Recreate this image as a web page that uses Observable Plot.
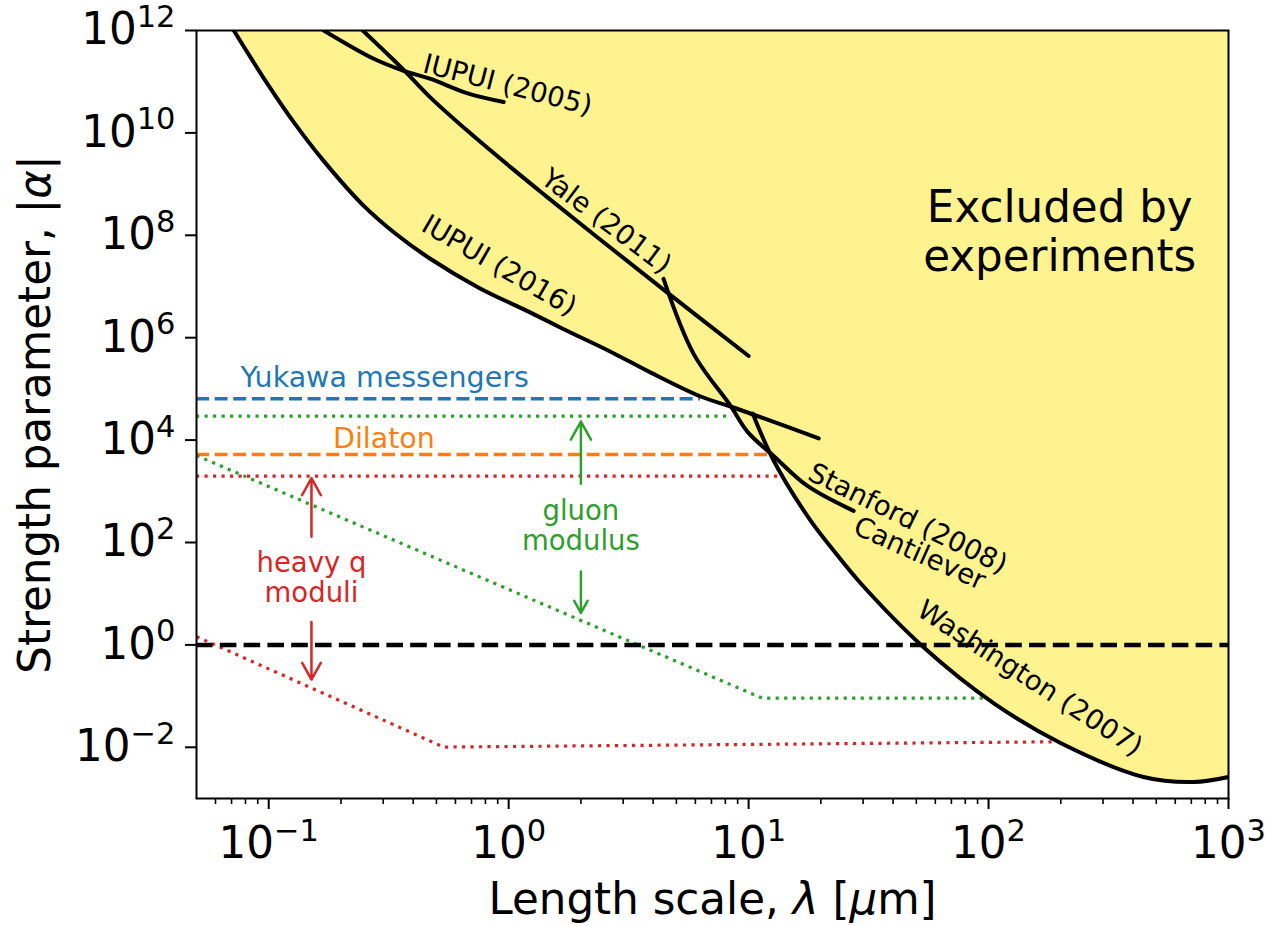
<!DOCTYPE html>
<html>
<head>
<meta charset="utf-8">
<script src="https://cdn.jsdelivr.net/npm/d3@7"></script>
<script src="https://cdn.jsdelivr.net/npm/@observablehq/plot@0.6"></script>
<style>
  html, body { margin: 0; padding: 0; background: #fff; }
  #chart svg { display: block; }
</style>
</head>
<body>
<div id="chart"></div>
<script>
// ---------------- data (x: length scale λ in µm, y: |α|) ----------------
const iupui2016X = [0.0715, 0.0971, 0.1296, 0.168, 0.2465, 0.338, 0.464, 0.75, 1.21, 1.68, 2.71, 3.91, 6.31, 8.41, 19.6];
const iupui2016Y = [1e12, 1.03e11, 1.43e10, 2.97e9, 3.93e8, 1.07e8, 3.65e7, 9.5e6, 3.23e6, 1.5e6, 5.1e5, 2.08e5, 7.1e4, 4.53e4, 1.08e4];

const yaleX = [0.2465, 0.3616, 0.464, 0.681, 1.039, 1.426, 2.305, 4.38, 10];
const yaleY = [1e12, 1.78e11, 5.3e10, 1.05e10, 1.98e9, 5.9e8, 9.7e7, 8.97e6, 4.4e5];

const iupui2005X = [0.1695, 0.274, 0.365, 0.473, 0.675, 0.953];
const iupui2005Y = [1e12, 2.8e11, 1.63e11, 1.13e11, 5.9e10, 4.0e10];

const stanfordX = [4.42, 5.90, 8.41, 9.90, 12.71, 17.6, 27.4];
const stanfordY = [1.41e7, 4.83e5, 4.66e4, 1.45e4, 4.9e3, 1.27e3, 414];

// Cantilever + Washington (2007) bound
const washingtonX = [10.4, 12.71, 18.1, 22.6, 29.3, 53.6, 104.9, 199.5, 442, 715, 1000];
const washingtonY = [3.3e4, 4.0e3, 270, 70, 16, 0.90, 0.073, 0.0121, 0.00263, 0.0021, 0.00263];

// theory predictions
const yukawaLevel = 6.4e4, yukawaEnd = 6.3;
const gluonTopLevel = 2.93e4, gluonTopEnd = 8.55;
const dilatonLevel = 5.25e3, dilatonEnd = 12.0;
const heavyTopLevel = 1.98e3, heavyTopEnd = 13.3;
const gluonLowX = [0.05, 11.4, 99];
const gluonLowY = [5.0e3, 0.091, 0.091];
const heavyLowX = [0.05, 0.536, 186.6];
const heavyLowY = [1.45, 0.0101, 0.0128];
const gravityLevel = 1;

// arrows [x, from, to]
const arrowX = [2.0, 2.0, 0.1507, 0.1507];
const arrowFrom = [1.4e3, 27, 130, 2.8];
const arrowTo = [2.3e4, 4.2, 1.8e3, 0.21];
const arrowColor = ["#2ca02c", "#2ca02c", "#d62728", "#d62728"];

// curve labels
const curveLabelText = ["IUPUI (2005)", "Yale (2011)", "IUPUI (2016)", "Stanford (2008)", "Cantilever", "Washington (2007)"];
const curveLabelX = [0.99, 2.55, 0.912, 46.1, 51.6, 148.6];
const curveLabelY = [8.6e10, 1.86e8, 2.55e7, 292, 60.6, 0.221];
const curveLabelAngle = [14.5, 37, 30, 26, 24, 33];

// ticks
const xMajorTicks = [0.1, 1, 10, 100, 1000];
const xMinorTicks = [0.06, 0.07, 0.08, 0.09, 0.2, 0.3, 0.4, 0.5, 0.6, 0.7, 0.8, 0.9,
  2, 3, 4, 5, 6, 7, 8, 9, 20, 30, 40, 50, 60, 70, 80, 90, 200, 300, 400, 500, 600, 700, 800, 900];
const yMajorTicks = [1e-2, 1, 1e2, 1e4, 1e6, 1e8, 1e10, 1e12];

// ---------------- build tables ----------------
const toRows = (X, Y) => X.map((x, i) => ({x, y: Y[i]}));
const iupui2016 = toRows(iupui2016X, iupui2016Y);
const yale = toRows(yaleX, yaleY);
const iupui2005 = toRows(iupui2005X, iupui2005Y);
const stanford = toRows(stanfordX, stanfordY);
const washington = toRows(washingtonX, washingtonY);
const gluonLow = toRows(gluonLowX, gluonLowY);
const heavyLow = toRows(heavyLowX, heavyLowY);

// excluded region boundary: the strongest bound at each λ
const envelope = [
  ...iupui2016.filter(d => d.x <= 8.41),
  ...stanford.filter(d => d.x > 8.41 && d.x <= 12.71),
  ...washington.filter(d => d.x > 12.71)
];

const dashedLevels = [
  {y: yukawaLevel, x2: yukawaEnd, color: "#1f77b4"},
  {y: dilatonLevel, x2: dilatonEnd, color: "#ff7f0e"}
];
const dottedLevels = [
  {y: gluonTopLevel, x2: gluonTopEnd, color: "#2ca02c"},
  {y: heavyTopLevel, x2: heavyTopEnd, color: "#d62728"}
];
const arrows = arrowX.map((x, i) => ({x, y1: arrowFrom[i], y2: arrowTo[i], c: arrowColor[i]}));
const curveLabels = curveLabelText.map((t, i) => ({t, x: curveLabelX[i], y: curveLabelY[i], a: curveLabelAngle[i]}));

const blackLine = {x: "x", y: "y", stroke: "black", strokeWidth: 4, curve: "catmull-rom", clip: true};
const font = "DejaVu Sans";
const big = 43.6;

const chart = Plot.plot({
  width: 1266,
  height: 926,
  marginLeft: 196,
  marginRight: 38,
  marginTop: 30,
  marginBottom: 128,
  style: {fontFamily: font, fontSize: big + "px", background: "white", color: "black"},
  x: {type: "log", domain: [0.05, 1000]},
  y: {type: "log", domain: [1e-3, 1e12]},
  marks: [
    Plot.areaY(envelope, {x: "x", y1: "y", y2: 1e12, fill: "#fff38f", curve: "catmull-rom", clip: true}),
    // theory lines
    Plot.ruleY(dashedLevels, {y: "y", x1: 0.05, x2: "x2", stroke: "color", strokeWidth: 3.5, strokeDasharray: "13,5.6", strokeLinecap: "butt"}),
    Plot.ruleY(dottedLevels, {y: "y", x1: 0.05, x2: "x2", stroke: "color", strokeWidth: 3.2, strokeDasharray: "3.2,5.3", strokeLinecap: "butt"}),
    Plot.line(gluonLow, {x: "x", y: "y", stroke: "#2ca02c", strokeWidth: 3.2, strokeDasharray: "3.2,5.3", strokeLinecap: "butt", clip: true}),
    Plot.line(heavyLow, {x: "x", y: "y", stroke: "#d62728", strokeWidth: 3.2, strokeDasharray: "3.2,5.3", strokeLinecap: "butt", clip: true}),
    Plot.ruleY([gravityLevel], {stroke: "black", strokeWidth: 4.5, strokeDasharray: "16.6,7.2", strokeLinecap: "butt"}),
    // experimental bounds
    Plot.line(iupui2016, blackLine),
    Plot.line(yale, blackLine),
    Plot.line(iupui2005, blackLine),
    Plot.line(stanford, blackLine),
    Plot.line(washington, blackLine),
    // arrows
    Plot.arrow(arrows, {x: "x", y1: "y1", y2: "y2", stroke: "c", strokeWidth: 2.5, headAngle: 58, headLength: 20}),
    // labels
    Plot.text(curveLabels, {x: "x", y: "y", text: "t", rotate: "a", fontSize: 27.5, fontFamily: font, fill: "black"}),
    Plot.text(["Excluded by\nexperiments"], {x: 198, y: 1.2e8, text: d => d, fontSize: big, fontFamily: font, lineHeight: 1.12, fill: "black"}),
    Plot.text(["Yukawa messengers"], {x: 0.304, y: 1.08e5, text: d => d, lineAnchor: "bottom", fontSize: 28.5, fontFamily: font, fill: "#1f77b4"}),
    Plot.text(["Dilaton"], {x: 0.302, y: 6.87e3, text: d => d, lineAnchor: "bottom", fontSize: 28.5, fontFamily: font, fill: "#ff7f0e"}),
    Plot.text(["gluon\nmodulus"], {x: 2.0, y: 213, text: d => d, lineHeight: 1.1, fontSize: 27.5, fontFamily: font, fill: "#2ca02c"}),
    Plot.text(["heavy q\nmoduli"], {x: 0.1507, y: 21, text: d => d, lineHeight: 1.08, fontSize: 27.5, fontFamily: font, fill: "#d62728"}),
    // axes
    Plot.axisX(xMinorTicks, {tickSize: 6, tickFormat: () => "", strokeWidth: 1.6, label: null}),
    Plot.axisX(xMajorTicks, {tickSize: 11, tickPadding: 18, strokeWidth: 2, tickFormat: d => "10^" + Math.round(Math.log10(d)), fontSize: big, label: null}),
    Plot.axisY(yMajorTicks, {tickSize: 11, tickPadding: 10, strokeWidth: 2, tickFormat: d => "10^" + Math.round(Math.log10(d)), fontSize: big, label: null}),
    Plot.text(["Length scale, λ [μm]"], {frameAnchor: "bottom", dy: 115, lineAnchor: "bottom", text: d => d, fontSize: big, fontFamily: font, fill: "black", ariaLabel: "x-label"}),
    Plot.text(["Strength parameter, |α|"], {frameAnchor: "left", dx: -147, rotate: -90, textAnchor: "middle", lineAnchor: "bottom", text: d => d, fontSize: big, fontFamily: font, fill: "black", ariaLabel: "y-label"}),
    Plot.frame({stroke: "black", strokeWidth: 2})
  ]
});

// typeset powers of ten as superscripts, and math symbols in italics
const NS = "http://www.w3.org/2000/svg";
chart.querySelectorAll("text").forEach(t => {
  const m = /^10\^(-?\d+)$/.exec(t.textContent);
  if (m) {
    t.textContent = "10";
    const ts = document.createElementNS(NS, "tspan");
    ts.setAttribute("font-size", "0.7em");
    ts.setAttribute("dy", "-0.57em");
    ts.textContent = m[1].replace("-", "\u2212");
    t.appendChild(ts);
  }
});
function italicize(t, pattern) {
  const s = t.textContent;
  t.textContent = "";
  for (const ch of s) {
    if (pattern.includes(ch)) {
      const ts = document.createElementNS(NS, "tspan");
      ts.setAttribute("font-style", "italic");
      ts.textContent = ch;
      t.appendChild(ts);
    } else {
      t.appendChild(document.createTextNode(ch));
    }
  }
}
chart.querySelectorAll("text").forEach(t => {
  if (t.textContent === "Length scale, λ [μm]") italicize(t, "λμ");
  else if (t.textContent === "Strength parameter, |α|") italicize(t, "α");
});

document.getElementById("chart").appendChild(chart);
</script>
</body>
</html>
